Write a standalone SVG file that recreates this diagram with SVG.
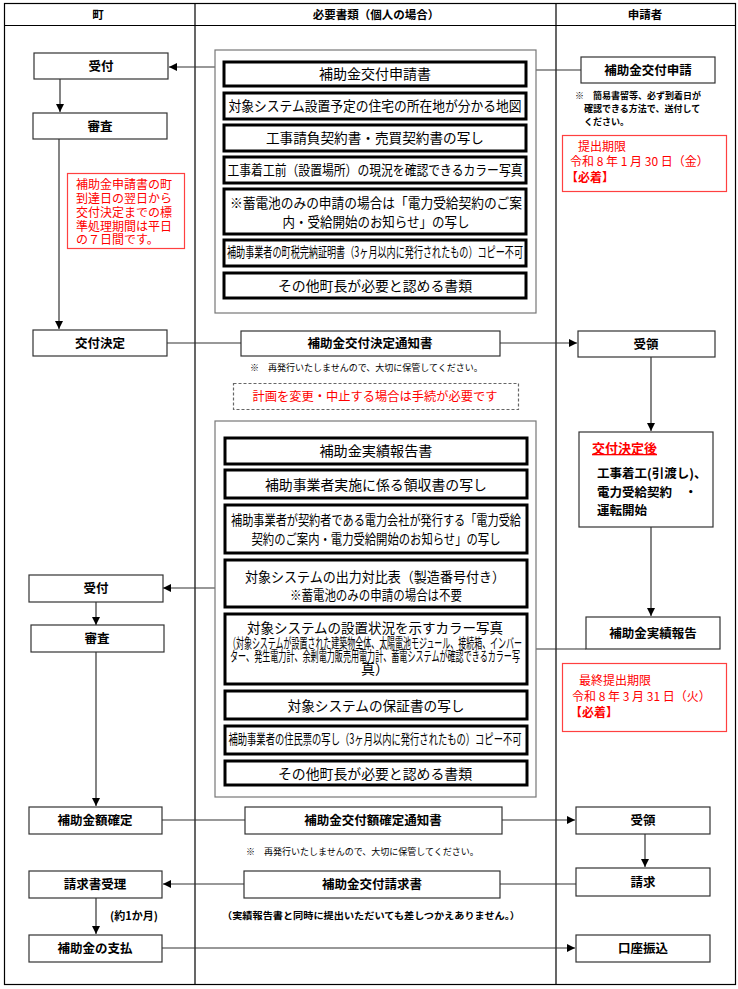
<svg xmlns="http://www.w3.org/2000/svg" width="738" height="989" viewBox="0 0 738 989">
<defs>
<marker id="ah" markerUnits="userSpaceOnUse" markerWidth="9" markerHeight="9" refX="8" refY="4" orient="auto">
<path d="M0,0 L8,4 L0,8 z" fill="#000"/>
</marker>
<style>
text{font-family:"Noto Sans CJK JP","Noto Sans CJK SC",sans-serif;fill:#000}
.hd{font-size:11.5px;font-weight:bold;text-anchor:middle}
.lb{font-size:12.5px;font-weight:bold;text-anchor:middle}
.doc{font-size:14px;text-anchor:middle}
.sm{font-size:9px}
.red{fill:#ff0000}
.box{fill:#fff;stroke:#333;stroke-width:1.2}
.dbox{fill:#fff;stroke:#000;stroke-width:3}
.cont{fill:#fff;stroke:#777;stroke-width:1.2}
.rbox{fill:#fff;stroke:#ff4040;stroke-width:1.2}
.ln{stroke:#333;stroke-width:1.2;fill:none}
.ar{stroke:#333;stroke-width:1.2;fill:none;marker-end:url(#ah)}
</style>
</defs>
<rect width="738" height="989" fill="#fff"/>
<g id="frame">
<rect x="4.5" y="3.5" width="731" height="981" fill="none" stroke="#000" stroke-width="1.2"/>
<line x1="4" y1="25.5" x2="735" y2="25.5" stroke="#000" stroke-width="1.2"/>
<line x1="195" y1="3" x2="195" y2="984" stroke="#000" stroke-width="1.2"/>
<line x1="556" y1="3" x2="556" y2="984" stroke="#000" stroke-width="1.2"/>
<text class="hd" x="98" y="19">町</text>
<text class="hd" x="376" y="19">必要書類（個人の場合）</text>
<text class="hd" x="645" y="19">申請者</text>
</g>
<g id="connectors">
<line class="ar" x1="215" y1="67" x2="169" y2="67"/>
<line class="ln" x1="536" y1="70" x2="581" y2="70"/>
<line class="ar" x1="60" y1="79" x2="60" y2="112"/>
<line class="ar" x1="59" y1="139" x2="59" y2="329"/>
<line class="ln" x1="167" y1="343" x2="241" y2="343"/>
<line class="ar" x1="500" y1="343" x2="577" y2="343"/>
<line class="ar" x1="651" y1="357" x2="651" y2="431"/>
<line class="ar" x1="651" y1="527" x2="651" y2="616"/>
<line class="ln" x1="536" y1="649" x2="586" y2="649"/>
<line class="ar" x1="215" y1="588" x2="163" y2="588"/>
<line class="ar" x1="96" y1="602" x2="96" y2="625"/>
<line class="ar" x1="96" y1="652" x2="96" y2="806"/>
<line class="ln" x1="162" y1="820" x2="245" y2="820"/>
<line class="ar" x1="502" y1="820" x2="575" y2="820" stroke-width="2"/>
<line class="ar" x1="645" y1="834" x2="645" y2="867"/>
<line class="ln" x1="576" y1="884" x2="500" y2="884"/>
<line class="ar" x1="244" y1="884" x2="163" y2="884"/>
<line class="ar" x1="96" y1="898" x2="96" y2="934"/>
<line class="ar" x1="162" y1="948" x2="575" y2="948"/>
</g>
<g id="n-uketsuke1"><rect class="box" x="34" y="53" width="134" height="26"/><text class="lb" x="101" y="71">受付</text></g>
<g id="n-shinsa1"><rect class="box" x="33" y="113" width="134" height="26"/><text class="lb" x="100" y="131">審査</text></g>
<g id="n-note-red1">
<rect class="rbox" x="67.5" y="173.5" width="117" height="75"/>
<text class="red" font-size="12" x="76" y="189">補助金申請書の町</text>
<text class="red" font-size="12" x="76" y="203">到達日の翌日から</text>
<text class="red" font-size="12" x="76" y="217">交付決定までの標</text>
<text class="red" font-size="12" x="76" y="231">準処理期間は平日</text>
<text class="red" font-size="12" x="76" y="244">の７日間です。</text>
</g>
<g id="n-kofukettei"><rect class="box" x="33" y="330" width="134" height="26"/><text class="lb" x="100" y="348">交付決定</text></g>
<g id="n-docs1">
<rect class="cont" x="215" y="50" width="321" height="263"/>
<rect class="dbox" x="224" y="62" width="302" height="24"/><text class="doc" x="375" y="79" textLength="112" lengthAdjust="spacingAndGlyphs">補助金交付申請書</text>
<rect class="dbox" x="224" y="93" width="302" height="26"/><text class="doc" x="375" y="111" textLength="293" lengthAdjust="spacingAndGlyphs">対象システム設置予定の住宅の所在地が分かる地図</text>
<rect class="dbox" x="224" y="125" width="302" height="26"/><text class="doc" x="375" y="143" textLength="218" lengthAdjust="spacingAndGlyphs">工事請負契約書・売買契約書の写し</text>
<rect class="dbox" x="224" y="157" width="302" height="26"/><text class="doc" x="375" y="175" textLength="295" lengthAdjust="spacingAndGlyphs">工事着工前（設置場所）の現況を確認できるカラー写真</text>
<rect class="dbox" x="224" y="189" width="302" height="45"/><text class="doc" x="376" y="208" textLength="292" lengthAdjust="spacingAndGlyphs">※蓄電池のみの申請の場合は「電力受給契約のご案</text><text class="doc" x="376" y="227" textLength="187" lengthAdjust="spacingAndGlyphs">内・受給開始のお知らせ」の写し</text>
<rect class="dbox" x="224" y="240" width="302" height="26"/><text class="doc" x="375" y="256.5" font-size="9.5" textLength="296" lengthAdjust="spacingAndGlyphs">補助事業者の町税完納証明書（3ヶ月以内に発行されたもの）コピー不可</text>
<rect class="dbox" x="224" y="273" width="302" height="25"/><text class="doc" x="375" y="291" font-size="15" textLength="194" lengthAdjust="spacingAndGlyphs">その他町長が必要と認める書類</text>
</g>
<g id="n-shinsei">
<rect class="box" x="581" y="57" width="134" height="26"/><text class="lb" x="648" y="75">補助金交付申請</text>
<text class="sm" x="575" y="99" font-weight="bold">※　簡易書留等、必ず到着日が</text>
<text class="sm" x="584" y="112" font-weight="bold">確認できる方法で、送付して</text>
<text class="sm" x="584" y="125" font-weight="bold">ください。</text>
</g>
<g id="n-deadline1">
<rect class="rbox" x="562.5" y="135.5" width="164" height="56"/>
<text class="red" font-size="12" x="578" y="151">提出期限</text>
<text class="red" font-size="12" x="570" y="166">令和 8 年 1 月 30 日（金）</text>
<text class="red" font-size="12" font-weight="bold" x="566" y="182">【必着】</text>
</g>
<g id="n-ketteitsuchi">
<rect class="box" x="241" y="331" width="259" height="25"/><text class="lb" x="370" y="348">補助金交付決定通知書</text>
<text class="sm" x="250" y="371">※　再発行いたしませんので、大切に保管してください。</text>
</g>
<g id="n-juryo1"><rect class="box" x="578" y="331" width="137" height="26"/><text class="lb" x="646" y="349">受領</text></g>
<g id="n-henko">
<rect x="233.5" y="383.5" width="285" height="26" fill="#fff" stroke="#666" stroke-width="1.2" stroke-dasharray="3,2"/>
<text class="red" font-size="12.5" x="375" y="401" text-anchor="middle" textLength="245" lengthAdjust="spacingAndGlyphs">計画を変更・中止する場合は手続が必要です</text>
</g>
<g id="n-kofukettei-go">
<rect class="box" x="579" y="432" width="134" height="95"/>
<text class="red" font-size="13" font-weight="bold" x="592" y="453" text-decoration="underline">交付決定後</text>
<text font-size="12.5" font-weight="bold" x="597" y="478">工事着工(引渡し)、</text>
<text font-size="12.5" font-weight="bold" x="597" y="497">電力受給契約　・</text>
<text font-size="12.5" font-weight="bold" x="597" y="515">運転開始</text>
</g>
<g id="n-docs2">
<rect class="cont" x="215" y="421" width="321" height="376"/>
<rect class="dbox" x="225" y="438" width="302" height="26"/><text class="doc" x="376" y="456" textLength="113" lengthAdjust="spacingAndGlyphs">補助金実績報告書</text>
<rect class="dbox" x="225" y="470" width="302" height="28"/><text class="doc" x="376" y="490" font-size="14.5" textLength="222" lengthAdjust="spacingAndGlyphs">補助事業者実施に係る領収書の写し</text>
<rect class="dbox" x="225" y="505" width="302" height="48"/><text class="doc" x="376" y="525" font-size="12.5" textLength="290" lengthAdjust="spacingAndGlyphs">補助事業者が契約者である電力会社が発行する「電力受給</text><text class="doc" x="376" y="544" font-size="12.5" textLength="249" lengthAdjust="spacingAndGlyphs">契約のご案内・電力受給開始のお知らせ」の写し</text>
<rect class="dbox" x="225" y="560" width="302" height="47"/><text class="doc" x="375" y="582" font-size="15.5" textLength="260" lengthAdjust="spacingAndGlyphs">対象システムの出力対比表（製造番号付き）</text><text class="doc" x="376" y="600" font-size="12" textLength="172" lengthAdjust="spacingAndGlyphs">※蓄電池のみの申請の場合は不要</text>
<rect class="dbox" x="225" y="614" width="302" height="70"/><text class="doc" x="375" y="633" font-size="16" textLength="256" lengthAdjust="spacingAndGlyphs">対象システムの設置状況を示すカラー写真</text>
<text class="doc" x="375" y="648" font-size="8.5" textLength="294" lengthAdjust="spacingAndGlyphs">（対象システムが設置された建築物全体、太陽電池モジュール、接続箱、インバー</text>
<text class="doc" x="375" y="661" font-size="8.5" textLength="290" lengthAdjust="spacingAndGlyphs">ター、発生電力計、余剰電力販売用電力計、蓄電システムが確認できるカラー写</text>
<text class="doc" x="375" y="674" font-size="8.5">真）</text>
<rect class="dbox" x="225" y="691" width="302" height="28"/><text class="doc" x="376" y="711" font-size="15" textLength="177" lengthAdjust="spacingAndGlyphs">対象システムの保証書の写し</text>
<rect class="dbox" x="225" y="726" width="302" height="28"/><text class="doc" x="375" y="744" font-size="10.5" textLength="293" lengthAdjust="spacingAndGlyphs">補助事業者の住民票の写し（3ヶ月以内に発行されたもの）コピー不可</text>
<rect class="dbox" x="225" y="761" width="302" height="24"/><text class="doc" x="375" y="779" font-size="15" textLength="194" lengthAdjust="spacingAndGlyphs">その他町長が必要と認める書類</text>
</g>
<g id="n-jisseki"><rect class="box" x="586" y="617" width="134" height="32"/><text class="lb" x="653" y="638">補助金実績報告</text></g>
<g id="n-deadline2">
<rect class="rbox" x="562.5" y="663.5" width="164" height="68"/>
<text class="red" font-size="12" x="579" y="685">最終提出期限</text>
<text class="red" font-size="12" x="572" y="701">令和 8 年 3 月 31 日（火）</text>
<text class="red" font-size="12" font-weight="bold" x="570" y="717">【必着】</text>
</g>
<g id="n-uketsuke2"><rect class="box" x="29" y="575" width="134" height="27"/><text class="lb" x="96" y="593">受付</text></g>
<g id="n-shinsa2"><rect class="box" x="31" y="625" width="133" height="27"/><text class="lb" x="97" y="643">審査</text></g>
<g id="n-gakukakutei"><rect class="box" x="29" y="807" width="133" height="27"/><text class="lb" x="95" y="825">補助金額確定</text></g>
<g id="n-kakuteitsuchi">
<rect class="box" x="245" y="807" width="257" height="27"/><text class="lb" x="373" y="825">補助金交付額確定通知書</text>
<text class="sm" x="246" y="855">※　再発行いたしませんので、大切に保管してください。</text>
</g>
<g id="n-juryo2"><rect class="box" x="576" y="807" width="134" height="27"/><text class="lb" x="643" y="825">受領</text></g>
<g id="n-seikyu"><rect class="box" x="576" y="868" width="134" height="28"/><text class="lb" x="643" y="887">請求</text></g>
<g id="n-seikyusho">
<rect class="box" x="244" y="871" width="256" height="27"/><text class="lb" x="372" y="889">補助金交付請求書</text>
<text font-size="9.5" font-weight="bold" x="371" y="919" text-anchor="middle" textLength="298" lengthAdjust="spacingAndGlyphs">（実績報告書と同時に提出いただいても差しつかえありません。）</text>
</g>
<g id="n-juri"><rect class="box" x="29" y="871" width="133" height="27"/><text class="lb" x="95" y="889">請求書受理</text></g>
<text font-size="11" font-weight="bold" x="110" y="920">(約1か月)</text>
<g id="n-shiharai"><rect class="box" x="29" y="935" width="133" height="27"/><text class="lb" x="95" y="953">補助金の支払</text></g>
<g id="n-furikomi"><rect class="box" x="576" y="935" width="134" height="27"/><text class="lb" x="643" y="953">口座振込</text></g>
</svg>
